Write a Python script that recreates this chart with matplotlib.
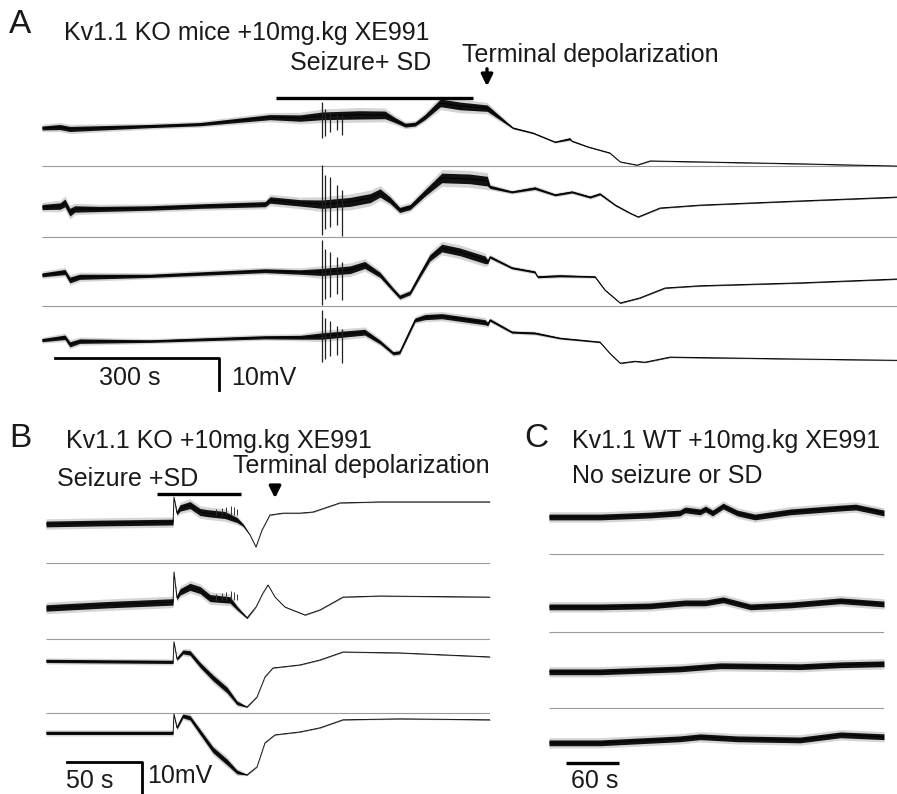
import matplotlib
matplotlib.use("Agg")
import matplotlib.pyplot as plt

plt.rcParams['font.family'] = ['Liberation Sans', 'DejaVu Sans']

W, H = 897, 794

# ---- panel A: Kv1.1 KO, 4 channels (time s, mV, noise half-width mV)
a_t = [
    [0, 33, 51, 197, 289, 417, 472, 512, 580, 627, 645, 664, 682, 700, 728, 731,
     764, 814, 861, 898, 938, 965, 969, 998, 1038, 1057, 1088, 1112, 1203, 1386, 1563],
    [0, 33, 42, 51, 60, 106, 197, 289, 408, 417, 472, 512, 563, 600, 618, 636, 654,
     673, 700, 731, 782, 814, 819, 859, 901, 938, 969, 1002, 1020, 1048, 1075, 1090,
     1130, 1203, 1386, 1563],
    [0, 42, 51, 69, 197, 408, 472, 512, 563, 590, 618, 642, 654, 673, 691, 709, 731,
     764, 810, 815, 819, 859, 901, 906, 947, 1011, 1029, 1057, 1093, 1139, 1203, 1386, 1563],
    [0, 42, 51, 69, 197, 408, 472, 512, 590, 618, 642, 654, 682, 700, 731, 810, 815,
     819, 859, 901, 947, 1020, 1038, 1057, 1084, 1102, 1148, 1386, 1563],
]
a_v = [
    [0, 0.3, -0.3, 0.6, 1.2, 3.4, 3.1, 3.8, 4.1, 4.1, 2.5, 0.9, 1.2, 3.4, 7.8, 7.8,
     6.9, 6.2, 0, -1.6, -4.4, -3.4, -4.1, -5.9, -7.8, -10.6, -11.6, -10.3, -10.6, -11.2, -11.9],
    [0, 0.3, 1.3, -1.6, -0.6, -0.6, -0.3, 0.3, 0.9, 2.2, 1.3, 0.9, 1.6, 2.8, 4.4, 2.2, -0.9,
     0, 4.4, 9.1, 8.8, 8.1, 6.3, 4.7, 5.9, 3.8, 4.7, 3.1, 4.1, 0.6, -1.9, -3.1,
     -0.3, 0.6, 1.9, 3.1],
    [0, 0.9, -1.6, -0.6, -0.3, 1.3, 0.9, 0.9, 1.6, 3.1, 0, -4.7, -6.9, -5.6, 0, 5.3, 8.4,
     7.2, 4.7, 4.1, 5.6, 2.2, 0.9, -0.6, -0.3, -0.6, -4.7, -8.8, -7.2, -4.1, -3.4, -2.5, -1.3],
    [0, 0.9, -1.3, -0.3, -0.3, 0.9, 0.9, 1.3, 2.5, -0.6, -4.1, -3.8, 6.3, 7.2, 7.5, 5.6, 5.0,
     6.3, 2.5, 2.2, 0.6, -0.6, -4.1, -7.2, -6.6, -6.9, -5.3, -5.9, -6.3],
]
# noise half-width per waypoint
a_w = [
    [0.6, 0.8, 0.8, 0.5, 0.5, 0.8, 1.0, 1.2, 1.3, 1.2, 0.8, 0.6, 0.6, 0.8, 1.2, 1.2,
     1.2, 1.0, 0.2, 0.15, 0.15, 0.3, 0.15, 0.1, 0.1, 0.05, 0.05, 0.05, 0.05, 0.05, 0.05],
    [0.8, 1.0, 1.2, 1.2, 1.0, 0.8, 0.7, 0.7, 0.8, 1.0, 1.0, 1.3, 1.4, 1.4, 1.3, 1.0, 0.8,
     0.8, 1.0, 1.5, 1.5, 1.5, 0.5, 0.3, 0.4, 0.3, 0.3, 0.3, 0.3, 0.2, 0.15, 0.1,
     0.1, 0.1, 0.1, 0.1],
    [0.6, 0.8, 0.9, 0.8, 0.5, 0.6, 0.7, 1.1, 1.2, 1.1, 0.8, 0.6, 0.6, 0.6, 0.8, 1.0, 1.2,
     1.2, 1.2, 0.6, 0.4, 0.3, 0.3, 0.3, 0.3, 0.2, 0.15, 0.1, 0.1, 0.1, 0.1, 0.1, 0.1],
    [0.5, 0.7, 0.8, 0.7, 0.4, 0.5, 0.6, 1.0, 0.9, 0.6, 0.5, 0.5, 0.6, 0.8, 0.8, 0.8, 0.5,
     0.4, 0.3, 0.3, 0.2, 0.15, 0.1, 0.1, 0.1, 0.1, 0.1, 0.05, 0.05],
]
a_spike_t = [512, 517, 527, 539, 548]
a_spike_top = [[8.1, 6.0, 5.0, 4.5, 4.1], [13.1, 10.0, 9.4, 6.9, 5.3],
               [10.9, 8.0, 7.0, 5.5, 4.0], [9.4, 7.0, 6.0, 4.5, 3.5]]
a_spike_bot = [[-3.1, -2.5, -1.3, -0.6, -2.2], [-8.8, -7.0, -6.3, -5.6, -9.1],
               [-9.4, -7.5, -7.0, -6.0, -8.0], [-6.9, -6.0, -5.0, -4.5, -7.0]]
a_offsets = [0, -24.7, -45.9, -66.3]
a_separators = [-11.9, -34.1, -55.6]
a_seizure = (428, 788)

# ---- panel B: Kv1.1 KO, 4 channels
b_t = [
    [0, 36, 84.7, 85.3, 87.3, 89.3, 96, 102.7, 107.3, 119.3, 127.3, 131.3, 136, 140, 144,
     149.3, 158, 169.3, 178, 196, 222.7, 296],
    [0, 40, 84.7, 85.3, 87.3, 89.3, 96, 102.7, 109.3, 122.7, 127.3, 134, 140, 144.7, 148,
     152.7, 159.3, 172.7, 182.7, 198, 222.7, 296],
    [0, 84.7, 85.3, 87.3, 91.3, 96, 102.7, 111.3, 120.7, 127.3, 134, 140.7, 146, 151.3,
     169.3, 182.7, 198, 236, 296],
    [0, 84.7, 85.3, 87.3, 91.3, 96, 102.7, 111.3, 120.7, 127.3, 134, 140.7, 146, 152.7,
     169.3, 182.7, 198, 236, 296],
]
b_v = [
    [0, 0.3, 0.6, 8.4, 3.4, 5.0, 5.9, 3.75, 3.4, 2.8, 1.25, -0.3, -3.4, -7.2, -1.9,
     2.8, 3.4, 3.4, 3.75, 6.6, 6.9, 6.9],
    [0, 1.0, 1.9, 11.25, 3.1, 5.0, 6.6, 5.6, 3.1, 2.5, 0, -3.1, 0.3, 4.7, 7.2,
     3.4, 0.3, -2.2, -0.6, 3.4, 3.75, 3.4],
    [0, -0.3, 6.0, 0.6, 2.8, 2.5, -1.25, -5.3, -9.1, -13.1, -14.4, -11.25, -5.0, -2.2,
     -1.25, 0.3, 2.8, 2.5, 1.25],
    [0, 0, 5.9, 1.6, 5.3, 4.7, 0.3, -5.3, -9.1, -12.2, -13.1, -10.6, -3.1, -0.6,
     0.3, 1.6, 4.1, 4.4, 4.1],
]
b_w = [
    [0.9, 0.9, 0.9, 0.1, 0.6, 1.0, 1.1, 1.1, 1.1, 1.1, 0.8, 0.4, 0.05, 0.05, 0.05,
     0.05, 0.05, 0.05, 0.05, 0.05, 0.05, 0.05],
    [1.0, 1.0, 1.0, 0.1, 0.6, 1.0, 1.1, 1.1, 1.1, 1.0, 0.6, 0.2, 0.05, 0.05, 0.05,
     0.05, 0.05, 0.05, 0.05, 0.05, 0.05, 0.05],
    [0.5, 0.5, 0.1, 0.4, 0.6, 0.7, 0.8, 0.9, 0.9, 0.6, 0.1, 0.05, 0.05, 0.05,
     0.05, 0.05, 0.05, 0.05, 0.05],
    [0.5, 0.5, 0.1, 0.4, 0.6, 0.7, 0.8, 0.9, 0.9, 0.6, 0.1, 0.05, 0.05, 0.05,
     0.05, 0.05, 0.05, 0.05, 0.05],
]
b_spike_t = [113, 117, 120, 123, 125.5, 127.5]
b_spike_up = [[2.0, 2.2, 2.5, 2.8, 2.4, 2.0], [2.0, 2.2, 2.5, 2.8, 2.4, 1.8]]
b_offsets = [0, -26.25, -42.8, -65.3]
b_separators = [-12.2, -35.9, -59.1]
b_seizure = (74, 130)

# ---- panel C: Kv1.1 WT, 4 channels
c_t = [
    [0, 58, 114, 148, 154, 171, 177, 185, 197, 213, 233, 273, 330, 347, 379],
    [0, 58, 114, 154, 177, 197, 228, 273, 330, 379],
    [0, 58, 148, 194, 284, 330, 379],
    [0, 58, 148, 171, 213, 284, 330, 379],
]
c_v = [
    [0, 0, 0.6, 1.25, 2.2, 1.6, 2.5, 1.25, 3.4, 1.25, 0, 1.6, 2.8, 3.1, 1.25],
    [0, 0, 0.3, 1.25, 1.25, 2.2, 0, 0.6, 1.9, 0.9],
    [0, 0, 0.9, 1.9, 1.6, 2.2, 2.5],
    [0, 0, 1.25, 1.9, 1.25, 0.9, 2.5, 1.9],
]
c_noise = 0.9
c_offsets = [0, -28.1, -48.4, -70.6]
c_separators = [-11.6, -35.9, -59.7]

# scale bars: (x0, length s, y, height mV)
a_bar = (23.8, 300, -71.9, 10)
b_bar = (14, 50, -74.4, 10)
c_bar = (19.3, 60, -76.9)


def box(x0, y0, x1, y1):
    return [x0 / W, 1 - y1 / H, (x1 - x0) / W, (y1 - y0) / H]


def fp(x, y):
    return (x / W, 1 - y / H)


fig = plt.figure(figsize=(W / 100, H / 100), dpi=100)


def draw_traces(ax, ts, vs, ws, offs, lw=0.7):
    for t, v, w, off in zip(ts, vs, ws, offs):
        # faint outer fuzz, dark core, then the trace itself
        lo2 = [vi + off - 1.7 * wi - 0.1 for vi, wi in zip(v, w)]
        hi2 = [vi + off + 1.7 * wi + 0.1 for vi, wi in zip(v, w)]
        ax.fill_between(t, lo2, hi2, color='#888888', alpha=0.35, lw=0)
        lo = [vi + off - wi for vi, wi in zip(v, w)]
        hi = [vi + off + wi for vi, wi in zip(v, w)]
        ax.fill_between(t, lo, hi, color='#111111', lw=0)
        ax.plot(t, [vi + off for vi in v], color='black', lw=lw)


def strip(ax):
    for s in ax.spines.values():
        s.set_visible(False)
    ax.set_xticks([])
    ax.set_yticks([])
    ax.patch.set_alpha(0)


# panel A
axA = fig.add_axes(box(42, 90, 897, 400))
axA.set_xlim(0, 855 / 0.547)
axA.set_ylim(-85, 11.875)
strip(axA)
for s in a_separators:
    axA.hlines(s, 0, a_t[0][-1], color='#9a9a9a', lw=0.8)
draw_traces(axA, a_t, a_v, a_w, a_offsets)
for k in range(4):
    for st, top, bot in zip(a_spike_t, a_spike_top[k], a_spike_bot[k]):
        axA.vlines(st, bot + a_offsets[k], top + a_offsets[k], color='#222222', lw=0.9)
axA.hlines(9.4, a_seizure[0], a_seizure[1], color='black', lw=2.4)
axA.plot([a_bar[0], a_bar[0] + a_bar[1], a_bar[0] + a_bar[1]],
         [a_bar[2], a_bar[2], a_bar[2] - a_bar[3]], color='black', lw=2.0, clip_on=False)

# panel B
axB = fig.add_axes(box(46, 480, 490, 794))
axB.set_xlim(0, 296)
axB.set_ylim(-84.4, 13.75)
strip(axB)
for s in b_separators:
    axB.hlines(s, 0, 296, color='#9a9a9a', lw=0.8)
draw_traces(axB, b_t, b_v, b_w, b_offsets, lw=0.6)
for k in range(2):
    for st, up in zip(b_spike_t, b_spike_up[k]):
        base = b_v[k][9] + b_offsets[k]
        axB.vlines(st, base, base + up, color='#333333', lw=0.7)
axB.hlines(9.4, b_seizure[0], b_seizure[1], color='black', lw=2.4)
axB.plot([b_bar[0], b_bar[0] + b_bar[1], b_bar[0] + b_bar[1]],
         [b_bar[2], b_bar[2], b_bar[2] - b_bar[3]], color='black', lw=2.0, clip_on=False)

# panel C
axC = fig.add_axes(box(549, 480, 884, 794))
axC.set_xlim(0, 379)
axC.set_ylim(-86.6, 11.56)
strip(axC)
for s in c_separators:
    axC.hlines(s, 0, 379, color='#9a9a9a', lw=0.8)
draw_traces(axC, c_t, c_v, [[c_noise] * len(t) for t in c_t], c_offsets)
axC.hlines(c_bar[2], c_bar[0], c_bar[0] + c_bar[1], color='black', lw=2.4)

# text
txt = dict(fontsize=18, color='#1a1a1a', va='baseline')
big = dict(fontsize=24, color='#1a1a1a', va='baseline')
fig.text(*fp(9, 33), 'A', **big)
fig.text(*fp(64, 40), 'Kv1.1 KO mice +10mg.kg XE991', **txt)
fig.text(*fp(290, 70), 'Seizure+ SD', **txt)
fig.text(*fp(462, 62), 'Terminal depolarization', **txt)
fig.text(*fp(99, 385), '300 s', **txt)
fig.text(*fp(231, 385), '10mV', **txt)

fig.text(*fp(9, 447), 'B', **big)
fig.text(*fp(66, 448), 'Kv1.1 KO +10mg.kg XE991', **txt)
fig.text(*fp(57, 486), 'Seizure +SD', **txt)
fig.text(*fp(233, 473), 'Terminal depolarization', **txt)
fig.text(*fp(66, 788), '50 s', **txt)
fig.text(*fp(147, 783), '10mV', **txt)

fig.text(*fp(524, 447), 'C', **big)
fig.text(*fp(572, 448), 'Kv1.1 WT +10mg.kg XE991', **txt)
fig.text(*fp(572, 483), 'No seizure or SD', **txt)
fig.text(*fp(571, 788), '60 s', **txt)

# arrows
for x, y0, y1 in [(487, 66, 89), (275, 483, 501)]:
    fig.patches.append(matplotlib.patches.FancyArrowPatch(
        fp(x, y0), fp(x, y1), transform=fig.transFigure, arrowstyle='-|>',
        mutation_scale=17, lw=2.4, color='black'))

fig.savefig('out.png', dpi=100)
